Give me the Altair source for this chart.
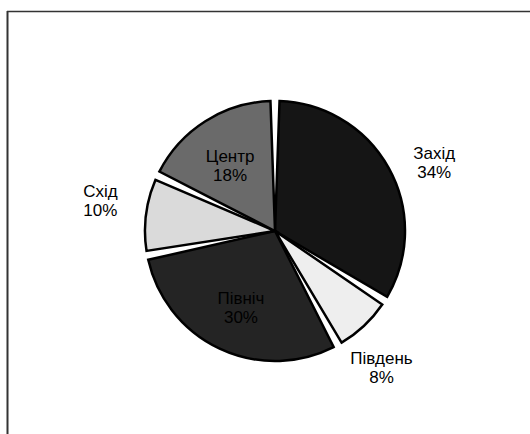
import altair as alt
import pandas as pd

regions = ["Захід", "Південь", "Північ", "Схід", "Центр"]
shares = [34, 8, 30, 10, 18]
fills = ["#151515", "#eeeeee", "#242424", "#dadada", "#6a6a6a"]
outside = [True, True, False, True, False]

labels = [f"{r}\n{s}%" for r, s in zip(regions, shares)]
df = pd.DataFrame({
    "region": regions,
    "share": shares,
    "idx": list(range(len(regions))),
    "label": labels,
})

CX, CY = 275, 231

# label placement tweaks (layout only): radius, dx, dy
label_style = {
    "Захід": (176, 5, 8),
    "Південь": (176, -14, 0),
    "Північ": (80, 0, -4),
    "Схід": (176, 0, -17),
    "Центр": (80, -2, -6),
}

base = alt.Chart(df).encode(
    theta=alt.Theta("share:Q", stack=True),
    order=alt.Order("idx:Q"),
)

pie = base.mark_arc(
    outerRadius=130, padAngle=0.07, stroke="black", strokeWidth=2.5, x=CX, y=CY
).encode(
    fill=alt.Fill("region:N", scale=alt.Scale(domain=regions, range=fills), legend=None)
)

text_layers = []
for reg in regions:
    r, dx, dy = label_style[reg]
    text_layers.append(
        base.mark_text(
            radius=r, x=CX, y=CY, dx=dx, dy=dy, fontSize=17, font="Liberation Sans",
            lineBreak="\n", align="center", baseline="middle", color="black"
        ).encode(
            text=alt.condition(f"datum.region == '{reg}'", alt.Text("label:N"), alt.value(""))
        )
    )

one = pd.DataFrame({"a": [0]})
frame_left = alt.Chart(one).mark_rule(color="#333333", strokeWidth=2).encode(
    x=alt.value(7.5), y=alt.value(11), y2=alt.value(440)
)
frame_top = alt.Chart(one).mark_rule(color="#333333", strokeWidth=1.5).encode(
    x=alt.value(7), x2=alt.value(540), y=alt.value(11.5)
)

chart = alt.layer(frame_left, frame_top, pie, *text_layers).properties(
    width=530, height=434, padding=0, autosize="none", background="white"
).configure_view(stroke=None)

chart.save("out.html", embed_options={"renderer": "svg", "actions": False})
